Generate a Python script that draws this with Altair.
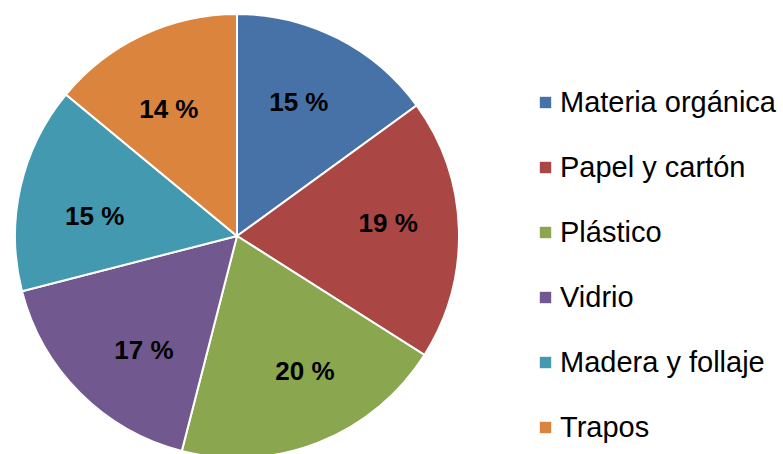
import altair as alt
import pandas as pd
import math

categories = ["Materia orgánica", "Papel y cartón", "Plástico", "Vidrio", "Madera y follaje", "Trapos"]
values = [15, 19, 20, 17, 15, 14]
labels = ["15 %", "19 %", "20 %", "17 %", "15 %", "14 %"]
colors = ["#4672A8", "#AA4744", "#8AA64F", "#71588F", "#4299B0", "#DB843D"]

df = pd.DataFrame({
    "cat": categories,
    "val": values,
    "lab": labels,
    "idx": list(range(len(categories))),
})

arcs = alt.Chart(df).mark_arc(radius=222, stroke="white", strokeWidth=2).encode(
    theta=alt.Theta("val:Q", stack=True),
    order=alt.Order("idx:Q", sort="ascending"),
    x=alt.value(237),
    y=alt.value(236),
    color=alt.Color(
        "cat:N",
        scale=alt.Scale(domain=categories, range=colors),
        sort=categories,
        legend=alt.Legend(
            title=None,
            orient="none",
            legendX=531,
            legendY=88,
            symbolType="square",
            symbolSize=130,
            symbolStrokeWidth=0,
            labelFont="Liberation Sans",
            labelFontSize=29,
            labelColor="black",
            rowPadding=35,
            labelOffset=0,
            labelLimit=300,
        ),
    ),
)

rot = -4 * math.pi / 180
text = alt.Chart(df).mark_text(
    radius=148,
    font="Liberation Sans",
    fontSize=26,
    fontWeight="bold",
    color="black",
).encode(
    theta=alt.Theta("val:Q", stack=True, scale=alt.Scale(range=[rot, 2 * math.pi + rot])),
    order=alt.Order("idx:Q", sort="ascending"),
    x=alt.value(241),
    y=alt.value(239),
    text="lab:N",
)

chart = alt.layer(arcs, text).resolve_scale(theta="independent").properties(
    width=783,
    height=454,
    autosize=alt.AutoSizeParams(type="none"),
    padding=0,
).configure_view(stroke=None)

chart.save("out.html", embed_options={"renderer": "svg", "actions": False})
